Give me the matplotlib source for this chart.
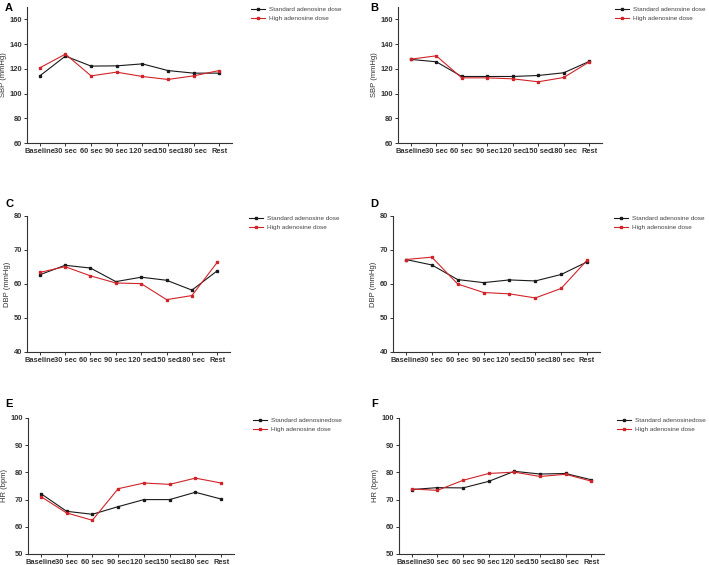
import matplotlib.pyplot as plt

plt.rcParams['font.family'] = ['Liberation Sans', 'DejaVu Sans']

times = ['Baseline', '30 sec', '60 sec', '90 sec', '120 sec', '150 sec', '180 sec', 'Rest']

# SBP (mmHg)
sbp_std_a = [114.3, 130.3, 122.2, 122.4, 124.0, 118.6, 116.5, 116.5]
sbp_high_a = [120.8, 131.9, 114.3, 117.3, 113.8, 111.4, 114.3, 118.6]
sbp_std_b = [127.6, 125.7, 113.8, 113.8, 113.8, 114.6, 116.8, 126.0]
sbp_high_b = [127.8, 130.5, 112.7, 112.7, 111.9, 109.5, 113.0, 125.6]

# DBP (mmHg)
dbp_std_c = [62.7, 65.5, 64.7, 60.7, 62.0, 61.1, 58.2, 63.9]
dbp_high_c = [63.4, 65.1, 62.4, 60.3, 60.1, 55.4, 56.6, 66.4]
dbp_std_d = [67.2, 65.6, 61.3, 60.4, 61.2, 60.9, 62.8, 66.5]
dbp_high_d = [67.2, 67.9, 60.0, 57.5, 57.1, 55.9, 58.7, 67.0]

# HR (bpm)
hr_std_e = [72.2, 65.7, 64.6, 67.4, 70.0, 70.0, 72.7, 70.2]
hr_high_e = [71.1, 65.1, 62.4, 74.0, 76.1, 75.6, 77.9, 76.1]
hr_std_f = [73.7, 74.4, 74.3, 76.7, 80.4, 79.4, 79.6, 77.3]
hr_high_f = [73.9, 73.4, 77.1, 79.6, 80.1, 78.5, 79.3, 76.8]

W, H = 709, 565
fig = plt.figure(figsize=(W / 100, H / 100), dpi=100)

black = '#1a1a1a'
red = '#d0242a'

panels = [
    # letter, std, high, ylabel, ylim, yticks, axes box (px: l, t, r, b), letter pos (px), legend pos (px), std label
    ('A', sbp_std_a, sbp_high_a, 'SBP (mmHg)', (60, 170), range(60, 161, 20), (27, 7, 232, 143), (5, 3), (245, 1), 'Standard adenosine dose'),
    ('B', sbp_std_b, sbp_high_b, 'SBP (mmHg)', (60, 170), range(60, 161, 20), (398, 7, 602, 143), (370, 3), (609, 1), 'Standard adenosine dose'),
    ('C', dbp_std_c, dbp_high_c, 'DBP (mmHg)', (40, 80), range(40, 81, 10), (27, 216, 230, 352), (5, 199), (243, 210), 'Standard adenosine dose'),
    ('D', dbp_std_d, dbp_high_d, 'DBP (mmHg)', (40, 80), range(40, 81, 10), (393, 216, 600, 352), (370, 199), (608, 210), 'Standard adenosine dose'),
    ('E', hr_std_e, hr_high_e, 'HR (bpm)', (50, 100), range(50, 101, 10), (28, 418, 234, 554), (5, 399), (247, 412), 'Standard adenosinedose'),
    ('F', hr_std_f, hr_high_f, 'HR (bpm)', (50, 100), range(50, 101, 10), (399, 418, 604, 554), (371, 399), (611, 412), 'Standard adenosinedose'),
]

x = list(range(len(times)))
for letter, std, high, ylabel, ylim, yticks, box, lpos, leg, std_label in panels:
    l, t, r, b = box
    ax = fig.add_axes([l / W, 1 - b / H, (r - l) / W, (b - t) / H])
    ax.plot(x, std, color=black, lw=0.8, marker='s', ms=1.8, label=std_label)
    ax.plot(x, high, color=red, lw=0.8, marker='s', ms=1.8, label='High adenosine dose')
    ax.set_xlim(-0.5, 7.5)
    ax.set_ylim(*ylim)
    ax.set_yticks(list(yticks))
    ax.set_xticks(x)
    ax.set_xticklabels(times)
    for s in ['top', 'right']:
        ax.spines[s].set_visible(False)
    for s in ['left', 'bottom']:
        ax.spines[s].set_linewidth(0.8)
        ax.spines[s].set_color('#333333')
    ax.tick_params(length=2, width=0.7, pad=1.5, labelsize=5.4, colors='#333333')
    for lab in ax.get_xticklabels() + ax.get_yticklabels():
        lab.set_fontweight('bold')
    ax.set_ylabel(ylabel, fontsize=5.5, color='#333333', labelpad=2)
    fig.text(lpos[0] / W, 1 - lpos[1] / H, letter, fontsize=8, fontweight='bold', va='top')
    ax.legend(loc='upper left', bbox_to_anchor=(leg[0] / W, 1 - leg[1] / H), bbox_transform=fig.transFigure,
              frameon=False, fontsize=4.6, handlelength=2.2, handletextpad=0.6, labelspacing=0.5, labelcolor='#444444')

fig.savefig('out.png', dpi=100)
